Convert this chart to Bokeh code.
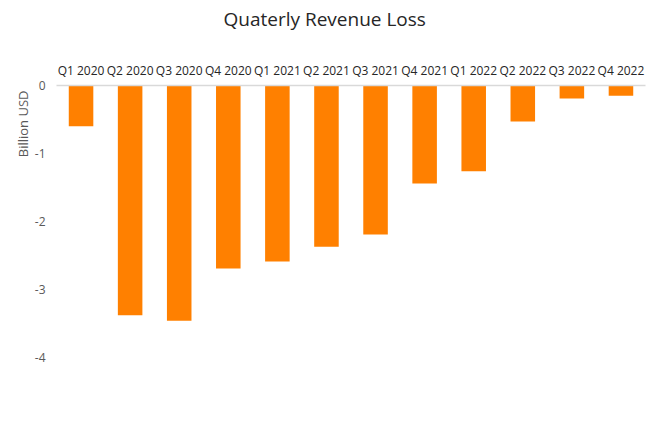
from bokeh.plotting import figure
from bokeh.models import FixedTicker, Range1d, ColumnDataSource, PrintfTickFormatter, LinearAxis, Title
from bokeh.embed import file_html
from bokeh.resources import INLINE

quarters = ["Q1 2020", "Q2 2020", "Q3 2020", "Q4 2020",
            "Q1 2021", "Q2 2021", "Q3 2021", "Q4 2021",
            "Q1 2022", "Q2 2022", "Q3 2022", "Q4 2022"]
loss = [-0.60, -3.38, -3.46, -2.69, -2.59, -2.37, -2.19, -1.44, -1.26, -0.53, -0.19, -0.15]
y_ticks = [-4, -3, -2, -1, 0]
title_text = "Quaterly Revenue Loss"
y_label = "Billion USD"

src = ColumnDataSource(dict(q=quarters, v=loss))

FONT = "Open Sans"

p = figure(x_range=quarters, y_range=Range1d(-4, 0), width=651, height=429,
           output_backend="svg", toolbar_location=None, x_axis_location="above",
           title=title_text)
p.vbar(x="q", top="v", bottom=0, width=0.5, source=src, fill_color="#FF8000", line_color=None)

p.title.align = "left"
p.title.offset = 167
p.title.vertical_align = "middle"
p.title.text_font = FONT
p.title.text_font_size = "19px"
p.title.text_font_style = "normal"
p.title.text_color = "#262626"
p.title.standoff = 0

# invisible spacer between title and category axis
spacer = LinearAxis(ticker=FixedTicker(ticks=[0.5]), major_label_overrides={0.5: ""},
                    axis_line_color=None, major_tick_line_color=None,
                    minor_tick_line_color=None, major_tick_out=26, major_tick_in=0,
                    minor_tick_out=0, major_label_standoff=0,
                    major_label_text_font_size="1px")
p.add_layout(spacer, "above")

# y-axis title placed at the top of the value axis
ytitle = Title(text=y_label, align="right", offset=5, standoff=0,
               text_font=FONT, text_font_size="13px", text_font_style="normal",
               text_color="#595959")
p.add_layout(ytitle, "left")

p.min_border_left = 56
p.min_border_right = 6
p.min_border_bottom = 72
p.min_border_top = 85

p.outline_line_color = None
p.xgrid.grid_line_color = None
p.ygrid.grid_line_color = None

xa = p.xaxis[0]
xa.axis_line_color = "#D9D9D9"
xa.axis_line_width = 1.5
xa.major_tick_line_color = None
xa.minor_tick_line_color = None
xa.major_tick_out = 0
xa.major_tick_in = 0
xa.major_label_text_font = FONT
xa.major_label_text_font_size = "12px"
xa.major_label_text_color = "#262626"
xa.major_label_standoff = 7

ya = p.yaxis[0]
ya.ticker = FixedTicker(ticks=y_ticks)
ya.formatter = PrintfTickFormatter(format="%d")
ya.axis_line_color = None
ya.major_tick_line_color = None
ya.minor_tick_line_color = None
ya.major_tick_out = 0
ya.major_tick_in = 0
ya.major_label_text_font = FONT
ya.major_label_text_font_size = "12px"
ya.major_label_text_color = "#595959"
ya.major_label_standoff = 11

open("out.html", "w").write(file_html(p, INLINE))
